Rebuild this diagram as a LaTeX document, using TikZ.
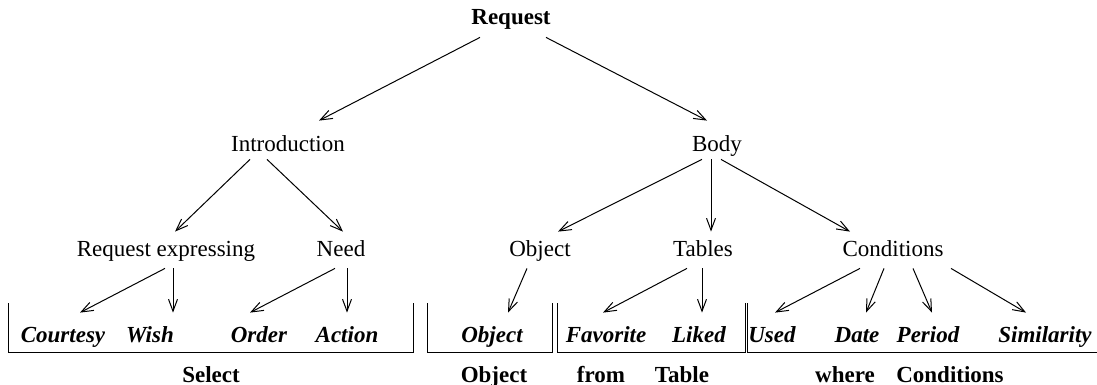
\documentclass[tikz,border=0pt]{standalone}
\usepackage{fontspec}
\setmainfont{Liberation Serif}
\usetikzlibrary{arrows.meta}

\begin{document}
\begin{tikzpicture}[x=0.5pt,y=-0.5pt,
		lbl/.style={anchor=base,inner xsep=0pt,inner ysep=4pt,text height=8pt,text depth=2pt,font=\fontsize{11.5}{13}\selectfont},
		leaf/.style={lbl,font=\fontsize{11.5}{13}\selectfont\bfseries\itshape},
		sql/.style={lbl,font=\fontsize{11.5}{13}\selectfont\bfseries},
		arr/.style={-{Straight Barb[length=6pt,width=4.5pt]},line width=0.5pt},
		brace/.style={line width=0.5pt}]

		\useasboundingbox (0,0) rectangle (1097,385);

		% tree
		\node[sql] (request) at (511,25) {Request};
		\node[lbl] (intro) at (288,151) {Introduction};
		\node[lbl] (body) at (717,151) {Body};
		\node[lbl] (reqexp) at (166,256) {Request expressing};
		\node[lbl] (need) at (341,256) {Need};
		\node[lbl] (object) at (540,256) {Object};
		\node[lbl] (tables) at (703,256) {Tables};
		\node[lbl] (conditions) at (893,256) {Conditions};

		% leaves
		\node[leaf] (courtesy) at (63,342) {Courtesy};
		\node[leaf] (wish) at (150,342) {Wish};
		\node[leaf] (order) at (259,342) {Order};
		\node[leaf] (action) at (347,342) {Action};
		\node[leaf] (objleaf) at (492,342) {Object};
		\node[leaf] (favorite) at (606,342) {Favorite};
		\node[leaf] (liked) at (699,342) {Liked};
		\node[leaf] (used) at (772,342) {Used};
		\node[leaf] (date) at (857,342) {Date};
		\node[leaf] (period) at (928,342) {Period};
		\node[leaf] (similarity) at (1045,342) {Similarity};

		% query words
		\node[sql] (select) at (211,382) {Select};
		\node[sql] (objsql) at (494,382) {Object};
		\node[sql] (from) at (601,382) {from};
		\node[sql] (table) at (682,382) {Table};
		\node[sql] (where) at (845,382) {where};
		\node[sql] (condsql) at (950,382) {Conditions};

		% brackets
		\draw[brace] (8,303) |- (413,352) -- (413,303);
		\draw[brace] (427,303) |- (552,352) -- (552,303);
		\draw[brace] (557,303) |- (745,352) -- (745,303);
		\draw[brace] (747,303) |- (1097,352);

		% arrows
		\draw[arr] ([xshift=-15.5pt]request.south) -- ([xshift=15.5pt,yshift=3pt]intro.north);
		\draw[arr] ([xshift=17.5pt]request.south) -- ([xshift=-5pt,yshift=3pt]body.north);

		\draw[arr] ([xshift=-19pt,yshift=2pt]intro.south) -- ([xshift=4.5pt]reqexp.north);
		\draw[arr] ([xshift=-10.5pt,yshift=2pt]intro.south) -- ([xshift=1pt]need.north);
		\draw[arr] ([xshift=-7.5pt,yshift=2pt]body.south) -- ([xshift=9pt]object.north);
		\draw[arr] ([xshift=-3pt,yshift=2pt]body.south) -- ([xshift=4pt]tables.north);
		\draw[arr] ([xshift=2pt,yshift=2pt]body.south) -- ([xshift=-21.5pt]conditions.north);

		\draw[arr] ([xshift=-0.5pt]reqexp.south) -- ([xshift=8.5pt,yshift=2.5pt]courtesy.north);
		\draw[arr] ([xshift=3.5pt]reqexp.south) -- ([xshift=11.5pt,yshift=2.5pt]wish.north);
		\draw[arr] ([xshift=-3pt]need.south) -- ([xshift=-4.5pt,yshift=2.5pt]order.north);
		\draw[arr] ([xshift=3pt]need.south) -- ([yshift=2.5pt]action.north);
		\draw[arr] ([xshift=-6.5pt]object.south) -- ([xshift=8pt,yshift=2.5pt]objleaf.north);
		\draw[arr] ([xshift=-8pt]tables.south) -- ([xshift=-1.5pt,yshift=2.5pt]favorite.north);
		\draw[arr] ([xshift=-0.5pt]tables.south) -- ([xshift=1.5pt,yshift=2.5pt]liked.north);
		\draw[arr] ([xshift=-16.5pt]conditions.south) -- ([xshift=1.5pt,yshift=2.5pt]used.north);
		\draw[arr] ([xshift=-4.5pt]conditions.south) -- ([xshift=4.5pt,yshift=2.5pt]date.north);
		\draw[arr] ([xshift=10pt]conditions.south) -- ([xshift=2pt,yshift=2.5pt]period.north);
		\draw[arr] ([xshift=29pt]conditions.south) -- ([xshift=-9.5pt,yshift=2.5pt]similarity.north);

	\end{tikzpicture}
\end{document}
